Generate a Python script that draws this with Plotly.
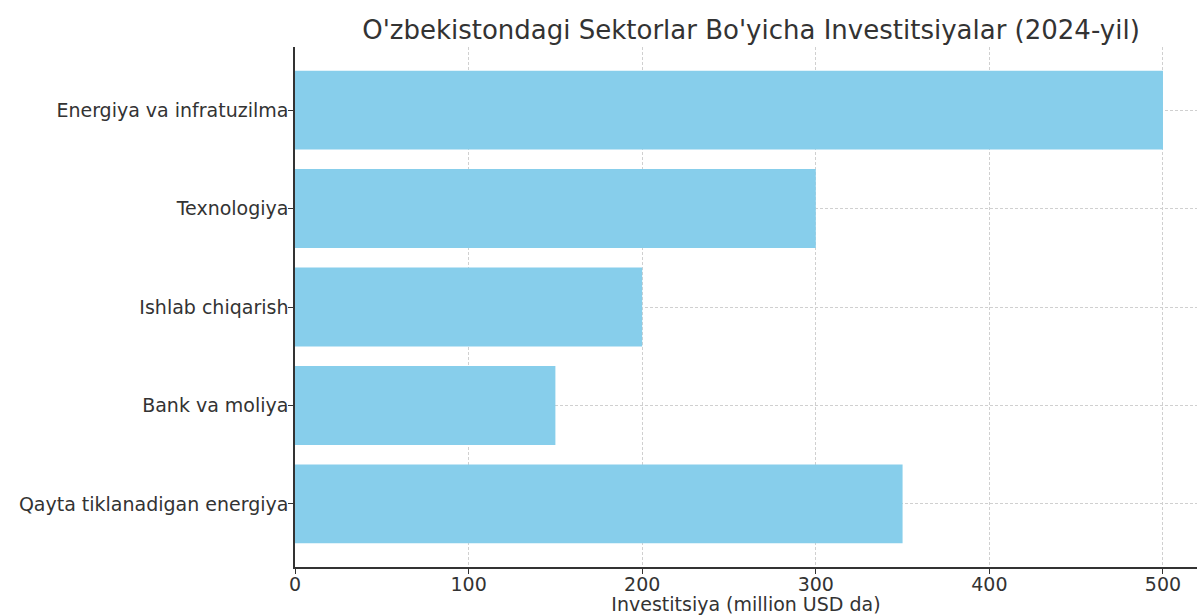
import plotly.graph_objects as go

sectors = ["Energiya va infratuzilma", "Texnologiya", "Ishlab chiqarish", "Bank va moliya", "Qayta tiklanadigan energiya"]
investments = [500, 300, 200, 150, 350]
x_ticks = [0, 100, 200, 300, 400, 500]

text_color = "#333333"
font_family = "DejaVu Sans, sans-serif"

W, H = 1197, 615

fig = go.Figure(go.Bar(
    x=investments,
    y=sectors,
    orientation="h",
    width=0.8,
    marker=dict(color="#87CEEB", line=dict(width=0)),
))

fig.update_layout(
    width=W, height=H,
    margin=dict(l=295, r=0, t=47, b=H - 567),
    paper_bgcolor="white", plot_bgcolor="white",
    font=dict(family=font_family, color=text_color, size=19),
    title=dict(text="O'zbekistondagi Sektorlar Bo'yicha Investitsiyalar (2024-yil)",
               x=751 / W, xanchor="center", y=1 - 30 / H, yanchor="middle",
               font=dict(size=26, color=text_color)),
    showlegend=False,
    bargap=0.2,
)

fig.update_xaxes(
    range=[0, 519.6],
    tickvals=x_ticks,
    ticktext=[str(v) for v in x_ticks],
    showgrid=True, gridcolor="#d0d0d0", griddash="3px,2px", gridwidth=1,
    showline=True, linecolor="#333333", linewidth=1.5,
    ticks="outside", ticklen=5, tickcolor="#333333", tickwidth=1.2,
    ticklabelstandoff=-6,
    zeroline=False,
    tickfont=dict(size=19, color=text_color),
    title=dict(text="Investitsiya (million USD da)", standoff=4, font=dict(size=19, color=text_color)),
)

fig.update_yaxes(
    categoryorder="array", categoryarray=sectors,
    range=[4.64, -0.64],
    showgrid=True, gridcolor="#d0d0d0", griddash="3px,2px", gridwidth=1,
    showline=True, linecolor="#333333", linewidth=1.5,
    ticks="outside", ticklen=5, tickcolor="#333333", tickwidth=1.2,
    ticklabelstandoff=-4,
    zeroline=False,
    tickfont=dict(size=19, color=text_color),
)

fig.write_html(
    "out.html",
    config={"displayModeBar": False},
    post_script="document.body.style.margin='0';document.body.style.overflow='hidden';",
)
